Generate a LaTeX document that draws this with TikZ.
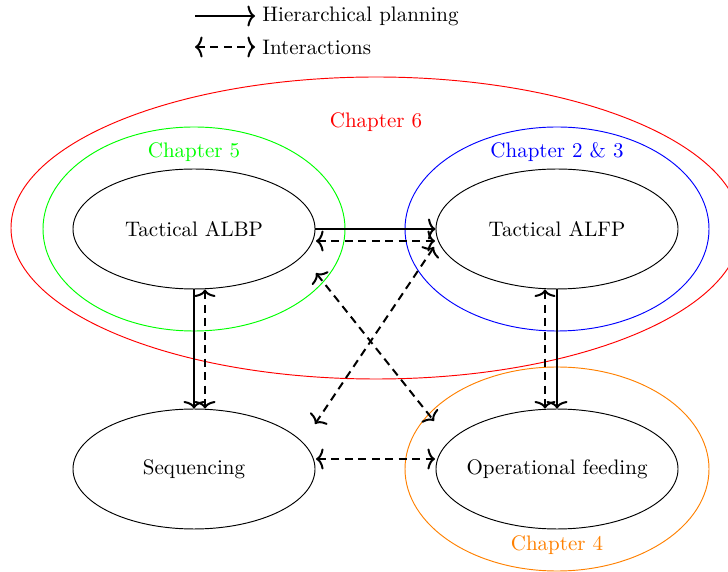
\documentclass[tikz,border=0pt]{standalone}
\usetikzlibrary{shapes.geometric,arrows.meta}
\begin{document}
\begin{tikzpicture}[x=0.476pt,y=-0.476pt,
  task/.style={draw,ellipse,line width=0.45pt,minimum width=115.2pt,minimum height=57.1pt,inner sep=0pt},
  hier/.style={-{To[length=3.6pt,width=10pt]},line width=0.95pt},
  inter/.style={{To[length=3.6pt,width=10pt]}-{To[length=3.6pt,width=10pt]},line width=0.95pt,dash pattern=on 3.8pt off 2.6pt},
  chap/.style={line width=0.45pt}]
\useasboundingbox (0,0) rectangle (728,572);
% chapter ellipses
\draw[chap,red] (376,228) ellipse [x radius=365, y radius=151];
\draw[chap,green] (194,229) ellipse [x radius=151, y radius=102];
\draw[chap,blue] (557,229) ellipse [x radius=152, y radius=102];
\draw[chap,orange] (557,469) ellipse [x radius=152, y radius=102];
\node[red] (c6) at (376,122) {Chapter 6};
\node[green] (c5) at (194,152) {Chapter 5};
\node[blue] (c23) at (557,152) {Chapter 2 \& 3};
\node[orange] (c4) at (557,545) {Chapter 4};
% task nodes
\node[task] (albp) at (194,229) {\makebox[0pt]{Tactical ALBP}};
\node[task] (alfp) at (557,229) {\makebox[0pt]{Tactical ALFP}};
\node[task] (seq) at (194,469) {\makebox[0pt]{Sequencing}};
\node[task] (opf) at (557,469) {\makebox[0pt]{Operational feeding}};
% hierarchical
\draw[hier] (albp.east) -- (alfp.west);
\draw[hier] (albp.south) -- (seq.north);
\draw[hier] (alfp.south) -- (opf.north);
% interactions
\draw[inter] ([shift={(122,12)}]albp.center) -- ([shift={(-122,12)}]alfp.center);
\draw[inter] ([xshift=11*0.476pt]albp.south) -- ([xshift=11*0.476pt]seq.north);
\draw[inter] ([xshift=-12*0.476pt]alfp.south) -- ([xshift=-12*0.476pt]opf.north);
\draw[inter] ([shift={(122,44)}]albp.center) -- ([shift={(-123,-48)}]opf.center);
\draw[inter] ([shift={(-123,18)}]alfp.center) -- ([shift={(121,-45)}]seq.center);
\draw[inter] ([shift={(122,-10)}]seq.center) -- ([shift={(-122,-10)}]opf.center);
% legend
\coordinate (l1a) at (195,16);
\coordinate (l1b) at (255,16);
\coordinate (l2a) at (195,47);
\coordinate (l2b) at (255,47);
\draw[hier] (l1a) -- (l1b);
\draw[inter] (l2a) -- (l2b);
\node[anchor=west,inner sep=0pt] (t1) at (262,16) {Hierarchical planning};
\node[anchor=west,inner sep=0pt] (t2) at (262,47) {Interactions};
\end{tikzpicture}
\end{document}
